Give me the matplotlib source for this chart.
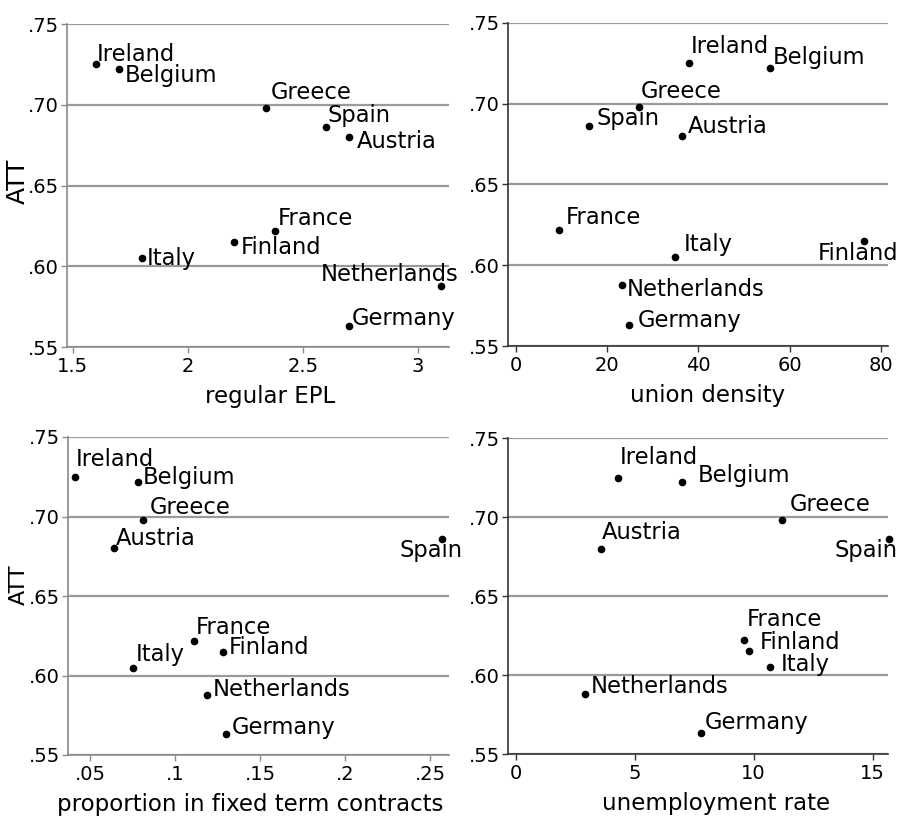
import numpy as np
import matplotlib
matplotlib.use("Agg")
import matplotlib.pyplot as plt

plt.rcParams['font.family'] = ['DejaVu Sans']

# data
countries = ["Ireland", "Belgium", "Greece", "Spain", "Austria",
             "France", "Finland", "Italy", "Netherlands", "Germany"]
att = [0.725, 0.722, 0.698, 0.686, 0.680, 0.622, 0.615, 0.605, 0.588, 0.563]

regular_epl = [1.6, 1.7, 2.34, 2.6, 2.7, 2.38, 2.2, 1.8, 3.1, 2.7]
union_density = [38.0, 55.6, 26.9, 16.0, 36.4, 9.5, 76.3, 34.9, 23.2, 24.9]
fixed_term = [0.041, 0.078, 0.081, 0.257, 0.064, 0.111, 0.128, 0.075, 0.119, 0.130]
unemployment = [4.3, 7.0, 11.2, 15.7, 3.6, 9.6, 9.8, 10.7, 2.9, 7.8]

y_ticks = [0.75, 0.70, 0.65, 0.60, 0.55]
y_ticklabels = [".75", ".70", ".65", ".60", ".55"]

epl_ticks = [1.5, 2, 2.5, 3]
epl_ticklabels = ["1.5", "2", "2.5", "3"]
union_ticks = [0, 20, 40, 60, 80]
union_ticklabels = ["0", "20", "40", "60", "80"]
fixed_ticks = [0.05, 0.1, 0.15, 0.2, 0.25]
fixed_ticklabels = [".05", ".1", ".15", ".2", ".25"]
unemp_ticks = [0, 5, 10, 15]
unemp_ticklabels = ["0", "5", "10", "15"]

# label placement (pixels): dx, dy of caps centre below the dot, alignment
lab_epl = [(1, -11, "left"), (6, 5, "left"), (5, -17, "left"), (2, -13, "left"),
           (8, 3, "left"), (3, -14, "left"), (7, 4, "left"), (5, -1, "left"),
           (18, -13, "right"), (3, -9, "left")]
lab_union = [(1, -18, "left"), (3, -12, "left"), (2, -17, "left"), (8, -9, "left"),
             (6, -11, "left"), (7, -14, "left"), (34, 11, "right"), (9, -14, "left"),
             (5, 3, "left"), (8, -6, "left")]
lab_fixed = [(1, -19, "left"), (5, -6, "left"), (7, -14, "left"), (20, 10, "right"),
             (2, -11, "left"), (2, -15, "left"), (6, -6, "left"), (3, -15, "left"),
             (5, -7, "left"), (6, -8, "left")]
lab_unemp = [(2, -22, "left"), (16, -8, "left"), (8, -17, "left"), (8, 10, "right"),
             (1, -18, "left"), (3, -22, "left"), (11, -10, "left"), (11, -4, "left"),
             (6, -9, "left"), (4, -12, "left")]

W, H = 903, 823
fig = plt.figure(figsize=(W / 100, H / 100), dpi=100)


def box(l, r, t, b):
    return [l / W, 1 - b / H, (r - l) / W, (b - t) / H]


panels = [
    dict(rect=box(67, 449, 24, 347), x=regular_epl, xl=(1.475, 3.136),
         ticks=epl_ticks, tl=epl_ticklabels, xlabel="regular EPL",
         labx=0.531, labs=lab_epl, spine="#8a8a8a", ylab=18, ylaby=0.512),
    dict(rect=box(508, 888, 23, 346), x=union_density, xl=(-1.69, 81.5),
         ticks=union_ticks, tl=union_ticklabels, xlabel="union density",
         labx=0.525, labs=lab_union, spine="#333333", ylab=None),
    dict(rect=box(68, 449, 437, 755), x=fixed_term, xl=(0.037, 0.261),
         ticks=fixed_ticks, tl=fixed_ticklabels,
         xlabel="proportion in fixed term contracts",
         labx=0.478, labs=lab_fixed, spine="#8a8a8a", ylab=16, ylaby=0.535),
    dict(rect=box(508, 888, 438, 754), x=unemployment, xl=(-0.32, 15.65),
         ticks=unemp_ticks, tl=unemp_ticklabels, xlabel="unemployment rate",
         labx=0.547, labs=lab_unemp, spine="#333333", ylab=None),
]

for p in panels:
    ax = fig.add_axes(p["rect"])
    ax.set_ylim(0.55, 0.75)
    ax.set_xlim(*p["xl"])
    ax.set_yticks(y_ticks)
    ax.set_yticklabels(y_ticklabels)
    ax.set_xticks(p["ticks"])
    ax.set_xticklabels(p["tl"])
    ax.yaxis.grid(True, color="#9a9a9a", lw=1.6)
    ax.set_axisbelow(True)
    for s in ["top", "right"]:
        ax.spines[s].set_visible(False)
    for s in ["left", "bottom"]:
        ax.spines[s].set_color(p["spine"])
        ax.spines[s].set_linewidth(1.2)
    ax.tick_params(direction="out", length=4, width=1, color=p["spine"],
                   labelsize=14, pad=2)
    ax.tick_params(axis="x", pad=3)

    ax.plot(p["x"], att, "o", color="black", ms=4.5, clip_on=False, zorder=3)
    for xi, yi, name, (dx, dy, ha) in zip(p["x"], att, countries, p["labs"]):
        ax.annotate(name, (xi, yi), xytext=(dx, -(dy + 8)),
                    textcoords="offset pixels", ha=ha, va="baseline",
                    fontsize=16.3, annotation_clip=False)

    ax.set_xlabel(p["xlabel"], fontsize=16.5)
    ax.xaxis.label.set_va("baseline")
    ax.xaxis.set_label_coords(p["labx"], -56 / (p["rect"][3] * H))
    if p["ylab"]:
        ax.set_ylabel("ATT", fontsize=p["ylab"])
        ax.yaxis.label.set_va("center")
        ax.yaxis.set_label_coords(-49 / (p["rect"][2] * W), p["ylaby"])

fig.savefig("out.png", dpi=100)
